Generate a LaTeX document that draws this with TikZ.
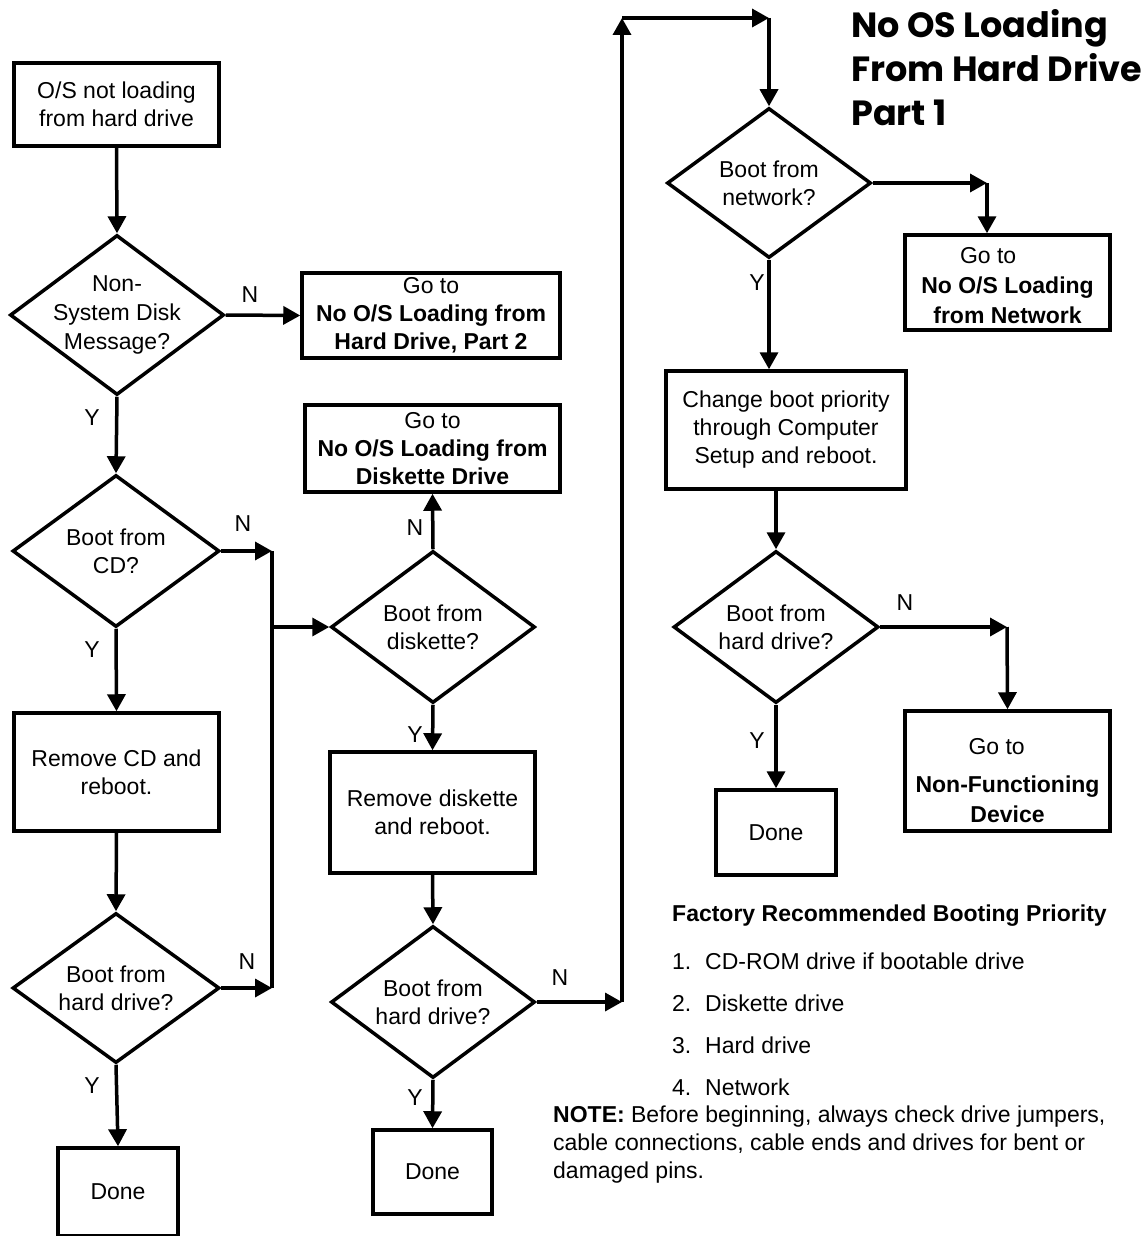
\documentclass[tikz,border=0pt]{standalone}
\usepackage{fontspec}
\setmainfont{Liberation Sans}
\newfontfamily\titlefont{Poppins}
\usetikzlibrary{arrows.meta,shapes.geometric}
\tikzset{
  every node/.style={font=\fontsize{23}{28}\selectfont, inner sep=0pt},
  box/.style={draw, line width=3.5pt, rectangle, align=center},
  dia/.style={draw, line width=3.5pt, diamond, aspect=1},
  arr/.style={line width=3.5pt, -{Triangle[length=17pt,width=18pt]}},
  ln/.style={line width=3.5pt},
  yn/.style={font=\fontsize{23}{28}\selectfont},
}
\begin{document}
\begin{tikzpicture}[x=1pt,y=-1pt]
\useasboundingbox (0,0) rectangle (1143,1236);

% ---------- boxes ----------
\node[box,minimum width=205pt,minimum height=83pt] (b1) at (116.5,104.5) {O/S not loading\\from hard drive};
\node[box,minimum width=258pt,minimum height=85pt] (b2) at (431,315.5) {Go to\\\textbf{No O/S Loading from}\\\textbf{Hard Drive, Part 2}};
\node[box,minimum width=255pt,minimum height=87pt] (b4) at (432.5,448.5) {Go to\\\textbf{No O/S Loading from}\\\textbf{Diskette Drive}};
\node[box,minimum width=205pt,minimum height=118pt] (b3) at (116.5,772) {Remove CD and\\reboot.};
\node[box,minimum width=205pt,minimum height=121pt] (b5) at (432.5,812.5) {Remove diskette\\and reboot.};
\node[box,minimum width=120pt,minimum height=88pt] (done1) at (118,1192) {Done};
\node[box,minimum width=119pt,minimum height=84pt] (done2) at (432.5,1172) {Done};
\node[box,minimum width=205pt,minimum height=95pt] (b6) at (1007.5,282.5) {\rule{0pt}{23pt}\makebox[95pt][l]{Go to}\\[2pt]\textbf{No O/S Loading}\\[2pt]\textbf{from Network}};
\node[box,minimum width=240pt,minimum height=118pt] (b7) at (786,430) {Change boot priority\\through Computer\\Setup and reboot.};
\node[box,minimum width=205pt,minimum height=120pt] (b8) at (1007.5,771) {\rule{0pt}{35pt}\makebox[78pt][l]{Go to}\\[10pt]\textbf{Non-Functioning}\\[2pt]\textbf{Device}};
\node[box,minimum width=120pt,minimum height=85pt] (done3) at (776,832.5) {Done};

% ---------- diamonds ----------
\node[dia,minimum width=214pt,minimum height=160pt,label={[align=center,font=\fontsize{23}{29}\selectfont]center:{Non-\\System Disk\\Message?}}] (d1) at (117,315) {};
\node[dia,minimum width=207pt,minimum height=152pt,label={[align=center]center:{Boot from\\CD?}}] (d2) at (116,551) {};
\node[dia,minimum width=204pt,minimum height=152pt,label={[align=center]center:{Boot from\\diskette?}}] (d3) at (433,627) {};
\node[dia,minimum width=207pt,minimum height=150pt,label={[align=center]center:{Boot from\\hard drive?}}] (d4) at (116,988) {};
\node[dia,minimum width=204pt,minimum height=152pt,label={[align=center]center:{Boot from\\hard drive?}}] (d5) at (433,1002) {};
\node[dia,minimum width=204pt,minimum height=150pt,label={[align=center]center:{Boot from\\network?}}] (d6) at (769,183) {};
\node[dia,minimum width=205pt,minimum height=152pt,label={[align=center]center:{Boot from\\hard drive?}}] (d7) at (776,627) {};

% ---------- junction coordinates ----------
\coordinate (j1) at (272,551);
\coordinate (j2) at (272,627);
\coordinate (j3) at (272,988);
\coordinate (j4) at (622,1002);
\coordinate (j5) at (622,18);
\coordinate (j6) at (769,18);
\coordinate (j7) at (987,183);
\coordinate (j8) at (1007,627);

% ---------- connectors ----------
\draw[arr] (b1.south) -- (d1.north);
\draw[arr] (d1.east) -- (b2.west);
\draw[arr] (d1.south) -- (d2.north);
\draw[arr] (d2.east) -- (j1);
\draw[ln] (j1) -- (j3);
\draw[arr] (j2) -- (d3.west);
\draw[arr] (d2.south) -- (b3.north);
\draw[arr] (b3.south) -- (d4.north);
\draw[arr] (d4.east) -- (j3);
\draw[arr] (d4.south) -- (done1.north);
\draw[arr] (d3.north) -- (b4.south);
\draw[arr] (d3.south) -- (b5.north);
\draw[arr] (b5.south) -- (d5.north);
\draw[arr] (d5.south) -- (done2.north);
\draw[arr] (d5.east) -- (j4);
\draw[arr] (j4) -- (j5);
\draw[arr] (j5) -- (j6);
\draw[arr] (j6) -- (d6.north);
\draw[arr] (d6.east) -- (j7);
\draw[arr] (j7) -- (j7 |- b6.north);
\draw[arr] (d6.south) -- (d6.south |- b7.north);
\draw[arr] (d7.north |- b7.south) -- (d7.north);
\draw[arr] (d7.east) -- (j8);
\draw[arr] (j8) -- (b8.north);
\draw[arr] (d7.south) -- (done3.north);

% ---------- Y / N labels ----------
\node[yn] (n1) at (250,295) {N};
\node[yn] (y1) at (92,418) {Y};
\node[yn] (n2) at (243,524) {N};
\node[yn] (y2) at (92,650) {Y};
\node[yn] (n3) at (247,962) {N};
\node[yn] (y3) at (92,1086) {Y};
\node[yn] (n4) at (415,528) {N};
\node[yn] (y4) at (415,735) {Y};
\node[yn] (n5) at (560,978) {N};
\node[yn] (y5) at (415,1098) {Y};
\node[yn] (y6) at (757,283) {Y};
\node[yn] (n7) at (905,603) {N};
\node[yn] (y7) at (757,741) {Y};

% ---------- title ----------
\node[anchor=west,align=left,font=\titlefont\bfseries\fontsize{35}{44}\selectfont] (title) at (851,68) {No OS Loading\\From Hard Drive\\Part 1};

% ---------- priority list ----------
\node[anchor=west] (prio) at (672,916) {\textbf{Factory Recommended Booting Priority}};
\node[anchor=west] (p1) at (672,961) {\makebox[33pt][l]{1.}CD-ROM drive if bootable drive};
\node[anchor=west] (p2) at (672,1003) {\makebox[33pt][l]{2.}Diskette drive};
\node[anchor=west] (p3) at (672,1045) {\makebox[33pt][l]{3.}Hard drive};
\node[anchor=west] (p4) at (672,1087) {\makebox[33pt][l]{4.}Network};

% ---------- note ----------
\node[anchor=west,align=left] (note) at (553,1145) {\textbf{NOTE:} Before beginning, always check drive jumpers,\\cable connections, cable ends and drives for bent or\\damaged pins.};
\end{tikzpicture}
\end{document}
